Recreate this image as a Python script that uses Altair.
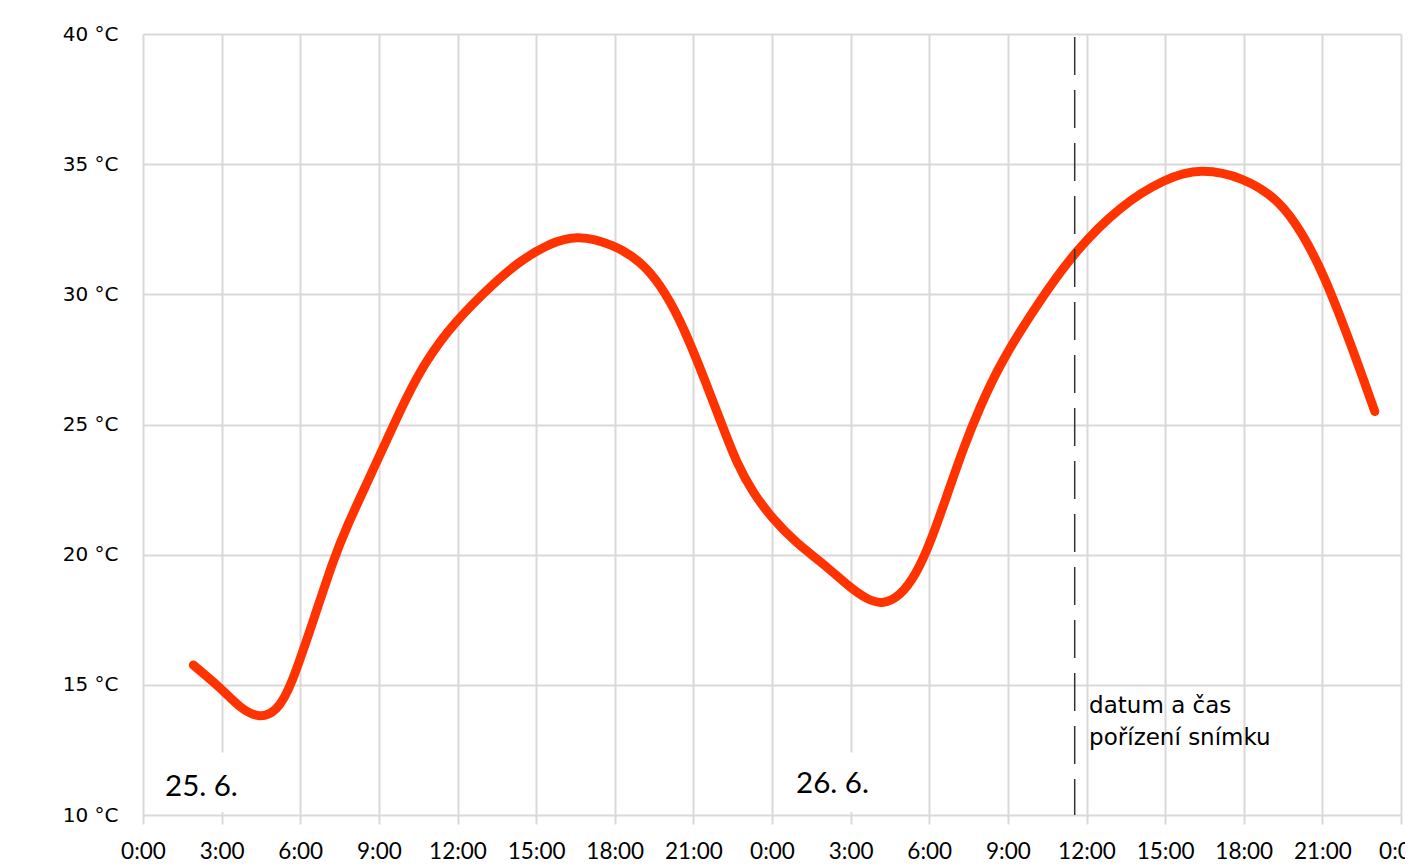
import altair as alt
import pandas as pd

# curve (hours since 25.6. 0:00, temperature in °C)
hours = [1.92, 3.0, 3.7, 4.46, 5.1, 5.61, 6.63, 7.26, 7.77, 8.54, 9.3, 10.06, 10.82,
         11.84, 13.37, 14.4, 15.5, 16.56, 18.0, 19.0, 19.72, 20.49, 21.25, 22.02, 22.65,
         23.29, 24.01, 24.94, 25.96, 27.01, 27.61, 28.18, 28.88, 29.52, 30.03, 30.66,
         31.3, 31.94, 32.7, 34.23, 35.6, 37.28, 39.0, 40.33, 42.0, 43.38, 44.2, 45.0,
         46.05, 47.0]
temps = [15.76, 14.85, 14.1, 13.7, 14.0, 14.8, 17.87, 19.79, 21.07, 22.74, 24.4,
         26.07, 27.48, 28.89, 30.42, 31.3, 31.95, 32.3, 31.9, 31.25, 30.4, 29.05, 27.2,
         25.17, 23.51, 22.35, 21.39, 20.43, 19.66, 18.7, 18.3, 18.08, 18.38, 19.28, 20.43,
         22.22, 24.1, 25.68, 27.35, 29.8, 31.7, 33.4, 34.45, 34.85, 34.5, 33.6, 32.4,
         30.9, 28.2, 25.5]

x_ticks = list(range(0, 49, 3))
y_ticks = [10, 15, 20, 25, 30, 35, 40]

day_labels = ["25. 6.", "26. 6."]
day_label_x = [0.84, 24.92]
day_label_y = [10.73, 10.84]

capture_time = [35.55]
capture_text = ["datum a čas\npořízení snímku"]
capture_text_x = [36.1]
capture_text_y = [13.92]

curve = pd.DataFrame({"h": hours, "t": temps})
days = pd.DataFrame({"h": day_label_x, "t": day_label_y, "label": day_labels})
boxes = pd.DataFrame({"h": [v - 0.35 for v in day_label_x],
                      "h2": [v + 3.1 for v in day_label_x],
                      "t": [10.12] * 2, "t2": [12.4] * 2})
rule = pd.DataFrame({"h": capture_time})
note = pd.DataFrame({"h": capture_text_x, "t": capture_text_y, "label": capture_text})

xs = alt.Scale(domain=[0, 48], nice=False, zero=False)
ys = alt.Scale(domain=[10, 40], nice=False, zero=False)

grid_col = "#d9d9d9"
x_axis = alt.Axis(values=x_ticks, labelExpr="(datum.value % 24) + ':00'", title=None,
                  grid=True, gridColor=grid_col, gridWidth=2,
                  ticks=True, tickColor=grid_col, tickWidth=2, tickSize=9,
                  domain=False, labelFont="Lato", labelFontSize=22.5, labelColor="black",
                  labelPadding=16, labelFlush=False, labelOverlap=False)
y_axis = alt.Axis(values=y_ticks, labelExpr="datum.value + ' °C'", title=None,
                  grid=True, gridColor=grid_col, gridWidth=2,
                  ticks=False, domain=False, labelFont="DejaVu Sans", labelFontSize=20,
                  labelColor="black", labelPadding=25, labelOverlap=False)

X = alt.X("h:Q", scale=xs, axis=x_axis)
Y = alt.Y("t:Q", scale=ys, axis=y_axis)

line = alt.Chart(curve).mark_line(color="#ff3300", strokeWidth=9, strokeCap="round",
                                  strokeJoin="round", interpolate="basis").encode(
    x=X, y=Y,
)

box = alt.Chart(boxes).mark_rect(color="white").encode(
    x=X, x2="h2:Q", y=Y, y2="t2:Q",
)

day_text = alt.Chart(days).mark_text(align="left", baseline="alphabetic", font="Lato",
                                     fontSize=29.5, color="black").encode(
    x=X, y=Y, text="label:N",
)

vrule = alt.Chart(rule).mark_rule(color="#333333", strokeWidth=1.5, strokeDash=[38, 15]).encode(
    x=X,
    y=alt.datum(39.88, scale=ys, axis=y_axis),
    y2=alt.datum(10),
)

note_text = alt.Chart(note).mark_text(align="left", baseline="alphabetic", font="DejaVu Sans",
                                      fontSize=23, color="black", lineBreak="\n",
                                      lineHeight=32).encode(
    x=X, y=Y, text="label:N",
)

chart = alt.layer(line, box, day_text, vrule, note_text).properties(
    width=1258, height=781,
    autosize=alt.AutoSizeParams(type="none"),
    padding={"left": 135, "top": 26, "right": 4, "bottom": 50},
    background="white",
).configure_view(stroke=None)

chart.save("out.html", embed_options={"renderer": "svg", "actions": False})
